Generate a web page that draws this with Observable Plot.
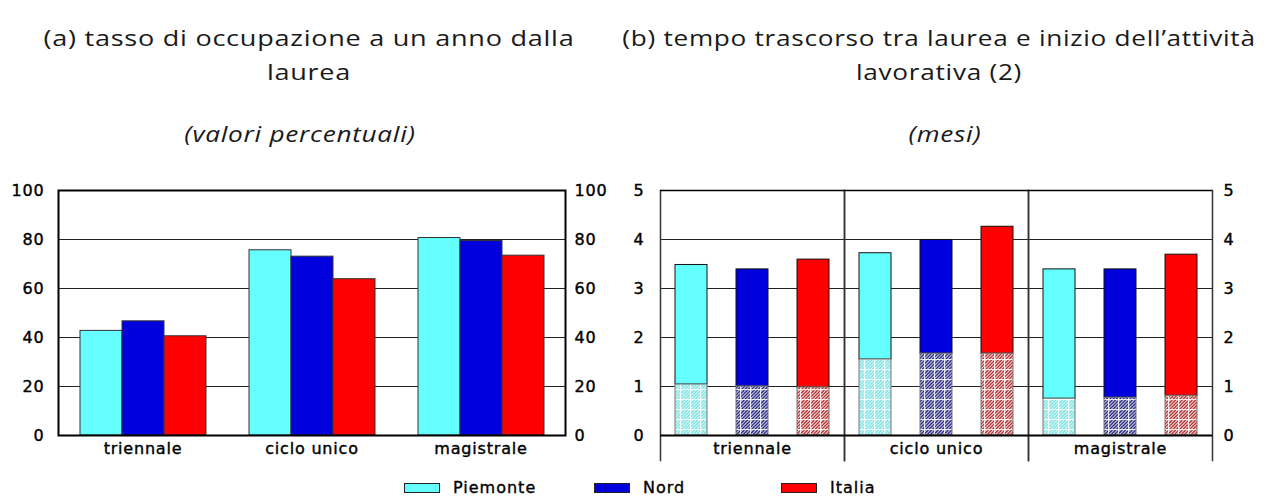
<!DOCTYPE html>
<html>
<head>
<meta charset="utf-8">
<script src="https://cdn.jsdelivr.net/npm/d3@7"></script>
<script src="https://cdn.jsdelivr.net/npm/@observablehq/plot@0.6"></script>
<style>
  html, body { margin: 0; padding: 0; background: #fff; }
  #root { position: relative; width: 1268px; height: 497px; overflow: hidden; background: #fff; }
  .title { position: absolute; text-align: center; font-family: "Open Sans", sans-serif; font-weight: 400; font-size: 22px; color: #1a1a1a; line-height: 34px; letter-spacing: 0.6px; transform: scaleX(1.23); transform-origin: center; }
  .sub { position: absolute; text-align: center; font-family: "Open Sans", sans-serif; font-weight: 400; font-style: italic; font-size: 22px; color: #1a1a1a; letter-spacing: 0.6px; transform: scaleX(1.19); transform-origin: center; }
  .chart { position: absolute; }
  .leg { position: absolute; top: 478px; display: flex; align-items: center; font-family: "DejaVu Sans", sans-serif; font-size: 16px; letter-spacing: 1px; color: #000; -webkit-text-stroke: 0.35px #000; }
  .leg .sw { width: 34px; height: 8px; border: 1px solid #222; margin-right: 13px; }
</style>
</head>
<body>
<div id="root">
  <div class="title" style="left:0; top:20px; width:618px;">(a) tasso di occupazione a un anno dalla<br>laurea</div>
  <div class="title" style="left:620px; top:20px; width:638px; transform: scaleX(1.19);">(b) tempo trascorso tra laurea e inizio dell’attività<br>lavorativa (2)</div>
  <div class="sub" style="left:0; top:118px; width:600px;">(valori percentuali)</div>
  <div class="sub" style="left:620px; top:118px; width:650px;">(mesi)</div>
  <div class="chart" id="left" style="left:0; top:170px;"></div>
  <div class="chart" id="right" style="left:620px; top:170px;"></div>
  <div id="legend"></div>
</div>
<script>
// ---- data ----
const categories = ["triennale", "ciclo unico", "magistrale"];
const regions = ["Piemonte", "Nord", "Italia"];
const colors = ["#66ffff", "#0000dd", "#ff0000"];

// (a) tasso di occupazione (%)
const occPiemonte = [42.7, 75.6, 80.6];
const occNord = [46.6, 73.0, 79.4];
const occItalia = [40.5, 63.8, 73.4];

// (b) mesi: totale e parte tratteggiata (inferiore)
const mesiTotPiemonte = [3.48, 3.72, 3.39];
const mesiTotNord = [3.39, 3.99, 3.39];
const mesiTotItalia = [3.59, 4.26, 3.69];
const mesiBasePiemonte = [1.04, 1.55, 0.75];
const mesiBaseNord = [1.0, 1.67, 0.77];
const mesiBaseItalia = [0.98, 1.67, 0.81];

const yTicksA = [0, 20, 40, 60, 80, 100];
const yTicksB = [0, 1, 2, 3, 4, 5];

// ---- build rows ----
const occ = [occPiemonte, occNord, occItalia];
const tot = [mesiTotPiemonte, mesiTotNord, mesiTotItalia];
const base = [mesiBasePiemonte, mesiBaseNord, mesiBaseItalia];
const rows = [];
categories.forEach((c, i) => regions.forEach((r, j) => {
  rows.push({cat: c, region: r, occ: occ[j][i], tot: tot[j][i], base: base[j][i]});
}));

const fontStyle = {fontFamily: "DejaVu Sans, sans-serif", fontSize: "16px", color: "#000", background: "transparent", letterSpacing: "0.8px", overflow: "visible"};
const textBold = {textStroke: "#000", textStrokeWidth: 0.4, textStrokeOpacity: 1};

// ---- left chart ----
const left = Plot.plot({
  width: 620, height: 300,
  marginTop: 20, marginBottom: 35, marginLeft: 57, marginRight: 54,
  style: fontStyle,
  fx: {domain: categories, padding: 0, label: null},
  x: {domain: regions, paddingInner: 0, paddingOuter: 0.466, axis: null},
  y: {domain: [0, 100], label: null},
  color: {domain: regions, range: colors},
  marks: [
    Plot.ruleY(yTicksA, {stroke: "#222", strokeWidth: 1}),
    Plot.barY(rows, {fx: "cat", x: "region", y: "occ", fill: "region", stroke: "#333", strokeWidth: 1}),
    Plot.frame({facet: "super", stroke: "#000", strokeWidth: 2}),
    Plot.axisY(yTicksA, {anchor: "left", tickSize: 0, tickPadding: 14, label: null, ...textBold}),
    Plot.axisY(yTicksA, {anchor: "right", tickSize: 0, tickPadding: 9, label: null, ...textBold}),
    Plot.axisFx({anchor: "bottom", tickSize: 0, tickPadding: 7, label: null, ...textBold})
  ]
});
document.getElementById("left").appendChild(left);

// ---- right chart ----
const patIds = ["patP", "patN", "patI"];
const right = Plot.plot({
  width: 648, height: 300,
  marginTop: 20, marginBottom: 35, marginLeft: 39, marginRight: 55,
  style: fontStyle,
  fx: {domain: categories, padding: 0, label: null},
  x: {domain: regions, paddingInner: 0.47, paddingOuter: 0.235, axis: null},
  y: {domain: [0, 5], label: null},
  color: {domain: regions, range: colors},
  marks: [
    Plot.ruleY(yTicksB, {stroke: "#222", strokeWidth: 1}),
    Plot.frame({anchor: "left", insetBottom: -25, stroke: "#333", strokeWidth: 1.5}),
    Plot.frame({anchor: "right", insetBottom: -25, stroke: "#333", strokeWidth: 1.5}),
    Plot.barY(rows, {fx: "cat", x: "region", y1: "base", y2: "tot", fill: "region", stroke: "#111", strokeWidth: 1}),
    ...regions.map((r, j) => Plot.barY(rows.filter(d => d.region === r), {fx: "cat", x: "region", y1: 0, y2: "base", fill: `url(#${patIds[j]})`, stroke: "#777", strokeWidth: 1})),
    Plot.ruleY([0], {stroke: "#000", strokeWidth: 2}),
    Plot.ruleY([5], {stroke: "#000", strokeWidth: 1.5}),
    Plot.axisY(yTicksB, {anchor: "left", tickSize: 0, tickPadding: 16, label: null, ...textBold}),
    Plot.axisY(yTicksB, {anchor: "right", tickSize: 0, tickPadding: 11, label: null, ...textBold}),
    Plot.axisFx({anchor: "bottom", tickSize: 0, tickPadding: 7, label: null, ...textBold})
  ]
});

// hatch patterns (diagonal hatching + white grid)
const ns = "http://www.w3.org/2000/svg";
const defs = document.createElementNS(ns, "defs");
const patSpecs = [
  {id: "patP", bg: "#c8f7f7", fg: "#80e0e0"},
  {id: "patN", bg: "#b8b8e0", fg: "#22237a"},
  {id: "patI", bg: "#f3c4c4", fg: "#b02a2a"}
];
const T = 10, n = 3;
patSpecs.forEach(s => {
  const p = document.createElementNS(ns, "pattern");
  p.setAttribute("id", s.id);
  p.setAttribute("patternUnits", "userSpaceOnUse");
  p.setAttribute("width", T);
  p.setAttribute("height", T);
  let d = "";
  for (let k = 0; k <= 2 * n; k++) {
    const c = k * T / n;
    if (c <= T) d += `M0,${c}L${c},0`;
    else d += `M${c - T},${T}L${T},${c - T}`;
  }
  p.innerHTML = `<rect width="${T}" height="${T}" fill="${s.bg}"/>` +
    `<path d="${d}" stroke="${s.fg}" stroke-width="1.1" fill="none"/>` +
    `<path d="M0,${T - 0.5}H${T}M${T - 0.5},0V${T}" stroke="#fff" stroke-width="1" fill="none" opacity="0.85"/>`;
  defs.appendChild(p);
});
right.insertBefore(defs, right.firstChild);
document.getElementById("right").appendChild(right);

// ---- legend ----
const legX = [404, 594, 781];
const leg = document.getElementById("legend");
regions.forEach((r, j) => {
  const item = document.createElement("div");
  item.className = "leg";
  item.style.left = legX[j] + "px";
  item.innerHTML = `<div class="sw" style="background:${colors[j]}"></div><span>${r}</span>`;
  leg.appendChild(item);
});
</script>
</body>
</html>
